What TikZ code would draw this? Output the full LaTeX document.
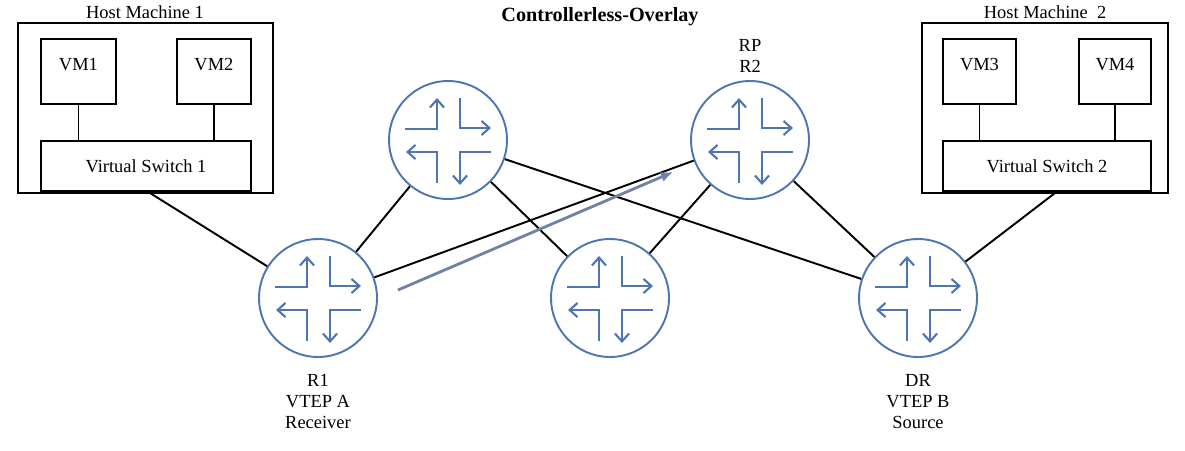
\documentclass[tikz,border=0pt]{standalone}
\usepackage{fontspec}
\setmainfont{Liberation Serif}
\usetikzlibrary{arrows.meta}
\definecolor{routerblue}{RGB}{79,117,178}
\definecolor{flowblue}{RGB}{110,130,165}
\begin{document}
\begin{tikzpicture}[x=0.02cm, y=-0.02cm, thick]
    % Define styles
    \tikzset{
      box/.style={draw, line width=1.1pt, minimum width=#1},
      router/.style={circle, draw=routerblue, line width=1.1pt, minimum size=2.36cm, inner sep=0pt,
        path picture={
          \coordinate (c) at (path picture bounding box.center);
          \begin{scope}[shift={(c)}, draw=routerblue, line width=1.2pt, -{Straight Barb[length=4.5pt,width=8pt]}, x=1cm, y=1cm]
            \draw (-0.86,0.22) -- (-0.22,0.22) -- (-0.22,0.84);
            \draw (0.24,0.84) -- (0.24,0.24) -- (0.86,0.24);
            \draw (-0.22,-0.86) -- (-0.22,-0.24) -- (-0.84,-0.24);
            \draw (0.86,-0.24) -- (0.24,-0.24) -- (0.24,-0.90);
          \end{scope}}},
      link/.style={draw, line width=1.1pt},
      lbl/.style={align=center, font=\fontsize{10.5}{12}\selectfont}
    }
    \useasboundingbox (0,0) rectangle (1185,450);

    % Title
    \node[font=\bfseries\fontsize{11.5}{13}\selectfont] (title) at (600,17) {Controllerless-Overlay};

    % Host machine 1
    \draw[line width=1.1pt] (18,23) rectangle (273,193);
    \node[lbl] (h1) at (145,12) {Host Machine 1};
    \node[box, minimum height=65*0.02cm, minimum width=75*0.02cm, anchor=north west, lbl] (vm1) at (40,38) {};
    \node[lbl, anchor=north] at (vm1.north) [yshift=-0.28cm] {VM1};
    \node[box, minimum height=65*0.02cm, minimum width=74*0.02cm, anchor=north west, lbl] (vm2) at (176,38) {};
    \node[lbl, anchor=north] at (vm2.north) [yshift=-0.28cm] {VM2};
    \node[box, minimum height=50*0.02cm, minimum width=210*0.02cm, anchor=north west, lbl] (vs1) at (40,140) {Virtual Switch 1};

    % Host machine 2
    \draw[line width=1.1pt] (922,23) rectangle (1168,193);
    \node[lbl] (h2) at (1045,12) {Host Machine\ \ 2};
    \node[box, minimum height=65*0.02cm, minimum width=73*0.02cm, anchor=north west, lbl] (vm3) at (942,38) {};
    \node[lbl, anchor=north] at (vm3.north) [yshift=-0.28cm] {VM3};
    \node[box, minimum height=65*0.02cm, minimum width=72*0.02cm, anchor=north west, lbl] (vm4) at (1078,38) {};
    \node[lbl, anchor=north] at (vm4.north) [yshift=-0.28cm] {VM4};
    \node[box, minimum height=50*0.02cm, minimum width=208*0.02cm, anchor=north west, lbl] (vs2) at (942,140) {Virtual Switch 2};

    % VMs to switches
    \path[link] (vm1) -- (vm1 |- vs1.north);
    \path[link] (vm2) -- (vm2 |- vs1.north);
    \path[link] (vm3) -- (vm3 |- vs2.north);
    \path[link] (vm4) -- (vm4 |- vs2.north);

    % Routers
    \node[router] (r1) at (318,298) {};
    \node[router] (rtop) at (448,140) {};
    \node[router] (r2) at (750,140) {};
    \node[router] (rmid) at (610,298) {};
    \node[router] (dr) at (918,298) {};

    % Router labels
    \node[lbl, anchor=south] (r2lbl) at (750,79) {RP\\R2};
    \node[lbl, anchor=north] (r1lbl) at (318,368) {R1\\VTEP A\\Receiver};
    \node[lbl, anchor=north] (drlbl) at (918,368) {DR\\VTEP B\\Source};

    % Links
    \coordinate (s1) at (150,193);
    \coordinate (s2) at (1055,193);
    \path[link] (s1) -- (r1);
    \path[link] (s2) -- (dr);
    \path[link] (r1) -- (rtop);
    \path[link] (r1) -- (r2);
    \path[link] (rtop) -- (rmid);
    \path[link] (rtop) -- (dr);
    \path[link] (r2) -- (rmid);
    \path[link] (r2) -- (dr);

    % Multicast direction
    \coordinate (a1) at (398,290);
    \coordinate (a2) at (673,172);
    \draw[flowblue, line width=1.6pt, -{Latex[length=7pt,width=6pt]}] (a1) -- (a2);
\end{tikzpicture}
\end{document}
